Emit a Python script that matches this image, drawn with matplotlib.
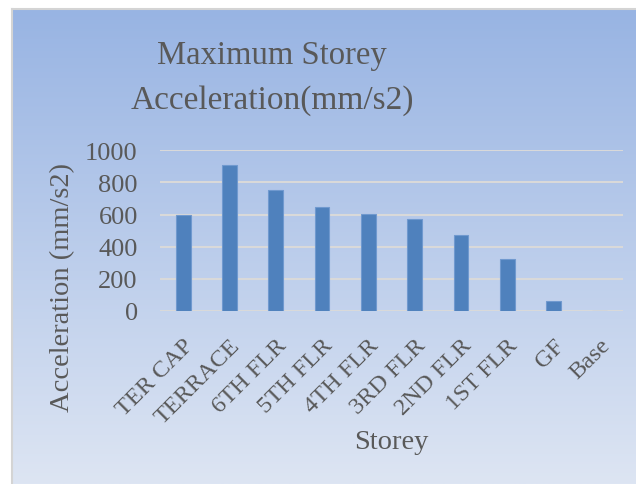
import numpy as np
import matplotlib.pyplot as plt
from matplotlib.colors import LinearSegmentedColormap

storeys = ["TER CAP", "TERRACE", "6TH FLR", "5TH FLR", "4TH FLR",
           "3RD FLR", "2ND FLR", "1ST FLR", "GF", "Base"]
accel = [597, 910, 754, 648, 606, 573, 471, 321, 65, 0]
y_ticks = [0, 200, 400, 600, 800, 1000]

plt.rcParams["font.family"] = ["Liberation Serif", "DejaVu Serif"]
txt = "#595959"

fig = plt.figure(figsize=(6.36, 4.85), dpi=100, facecolor="white")

# gradient chart background with thin grey frame
bg = fig.add_axes([12 / 636, 0, 1 - 12 / 636, 1 - 10 / 485])
grad = LinearSegmentedColormap.from_list("bg", ["#98b4e3", "#dde5f3"])
bg.imshow(np.linspace(0, 1, 256).reshape(-1, 1), cmap=grad, aspect="auto",
          extent=[0, 1, 0, 1])
bg.set_xticks([])
bg.set_yticks([])
for side in ["right", "bottom"]:
    bg.spines[side].set_visible(False)
for side in ["left", "top"]:
    bg.spines[side].set_color("#d4d4d4")
    bg.spines[side].set_linewidth(1.5)

ax = fig.add_axes([160 / 636, (485 - 312) / 485, 463 / 636, 160.7 / 485])
ax.patch.set_alpha(0)
x = np.arange(len(storeys))
ax.bar(x, accel, width=0.32, color="#4f81bd", edgecolor="#7099cf",
       linewidth=0.8, zorder=3)
ax.set_xlim(-0.5, len(storeys) - 0.5)
ax.set_ylim(0, 1000)
ax.set_yticks(y_ticks)
ax.set_yticklabels([str(v) for v in y_ticks], fontsize=19, color=txt)
ax.set_xticks(x)
ax.set_xticklabels(storeys, rotation=45, ha="right", va="top",
                   rotation_mode="anchor", fontsize=17.5, color=txt)
ax.tick_params(axis="both", length=0)
ax.tick_params(axis="y", pad=16)
ax.tick_params(axis="x", pad=17)
ax.grid(axis="y", color="#d9d9d9", linewidth=1.5, zorder=0)
for s in ax.spines.values():
    s.set_visible(False)

fig.text(272 / 636, 1 - 56 / 485, "Maximum Storey", ha="center", va="center",
         fontsize=23.5, color=txt)
fig.text(272 / 636, 1 - 101 / 485, "Acceleration(mm/s2)", ha="center",
         va="center", fontsize=24, color=txt)
fig.text(63 / 636, 1 - 287 / 485, "Acceleration (mm/s2)", rotation=90,
         ha="center", va="center", fontsize=20.5, color=txt)
fig.text(391 / 636, 1 - 443 / 485, "Storey", ha="center", va="center",
         fontsize=20.5, color=txt)

fig.savefig("out.png", dpi=100, facecolor="white")
